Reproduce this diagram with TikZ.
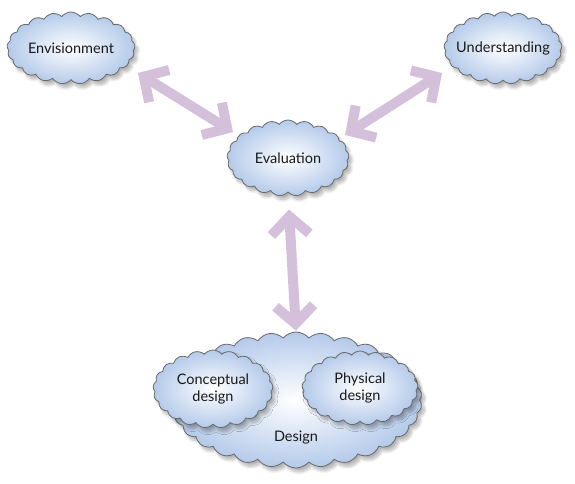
\documentclass[tikz,border=0pt]{standalone}
\usepackage{fontspec}
\setmainfont{Lato}
\usetikzlibrary{shapes.symbols,arrows.meta,shadows.blur}
\definecolor{puffblue}{RGB}{180,202,234}
\definecolor{puffline}{RGB}{105,105,105}
\definecolor{lilac}{RGB}{212,192,218}
\tikzset{
  puff/.style={cloud, cloud puffs=21, cloud puff arc=105, cloud ignores aspect,
    draw=puffline, line width=0.8pt, inner color=white, outer color=puffblue,
    blur shadow={shadow xshift=3pt, shadow yshift=-4pt, shadow blur radius=3pt,
      shadow blur steps=10, shadow opacity=30},
    inner sep=0pt, label distance=0pt},
  puffname/.style={font=\fontsize{14.5}{17}\selectfont, align=center, text=black!90},
  twoway/.style={draw=lilac, line width=10pt, >={Straight Barb[length=18pt,width=38pt,line join=miter]}, <->}
}
\begin{document}
\begin{tikzpicture}[x=1pt,y=-1pt]
\useasboundingbox (0,0) rectangle (575,484);
\node[puff, minimum width=128pt, minimum height=72pt,
  label={[puffname]center:Envisionment}] (env) at (71,48) {};
\node[puff, minimum width=118pt, minimum height=72pt,
  label={[puffname]center:Understanding}] (und) at (503,48) {};
\node[puff, minimum width=122pt, minimum height=76pt,
  label={[puffname]center:Evaluation}] (eval) at (288,158) {};
\node[puff, cloud puffs=30, cloud puff arc=100, minimum width=252pt, minimum height=136pt] (design) at (296,400) {};
\node[puffname] (designlbl) at (296,438) {Design};
\node[puff, minimum width=120pt, minimum height=78pt,
  label={[puffname]center:Conceptual\\design}] (concept) at (213,389) {};
\node[puff, minimum width=116pt, minimum height=74pt,
  label={[puffname]center:Physical\\design}] (phys) at (360,388) {};
\coordinate (a1) at (138,73);
\coordinate (a2) at (233,132);
\coordinate (b1) at (345,135);
\coordinate (b2) at (442,73);
\draw[twoway] (a1) -- (a2);
\draw[twoway] (b1) -- (b2);
\draw[twoway, shorten <=17pt, shorten >=1pt] (eval.south) -- (design.north);
\end{tikzpicture}
\end{document}
